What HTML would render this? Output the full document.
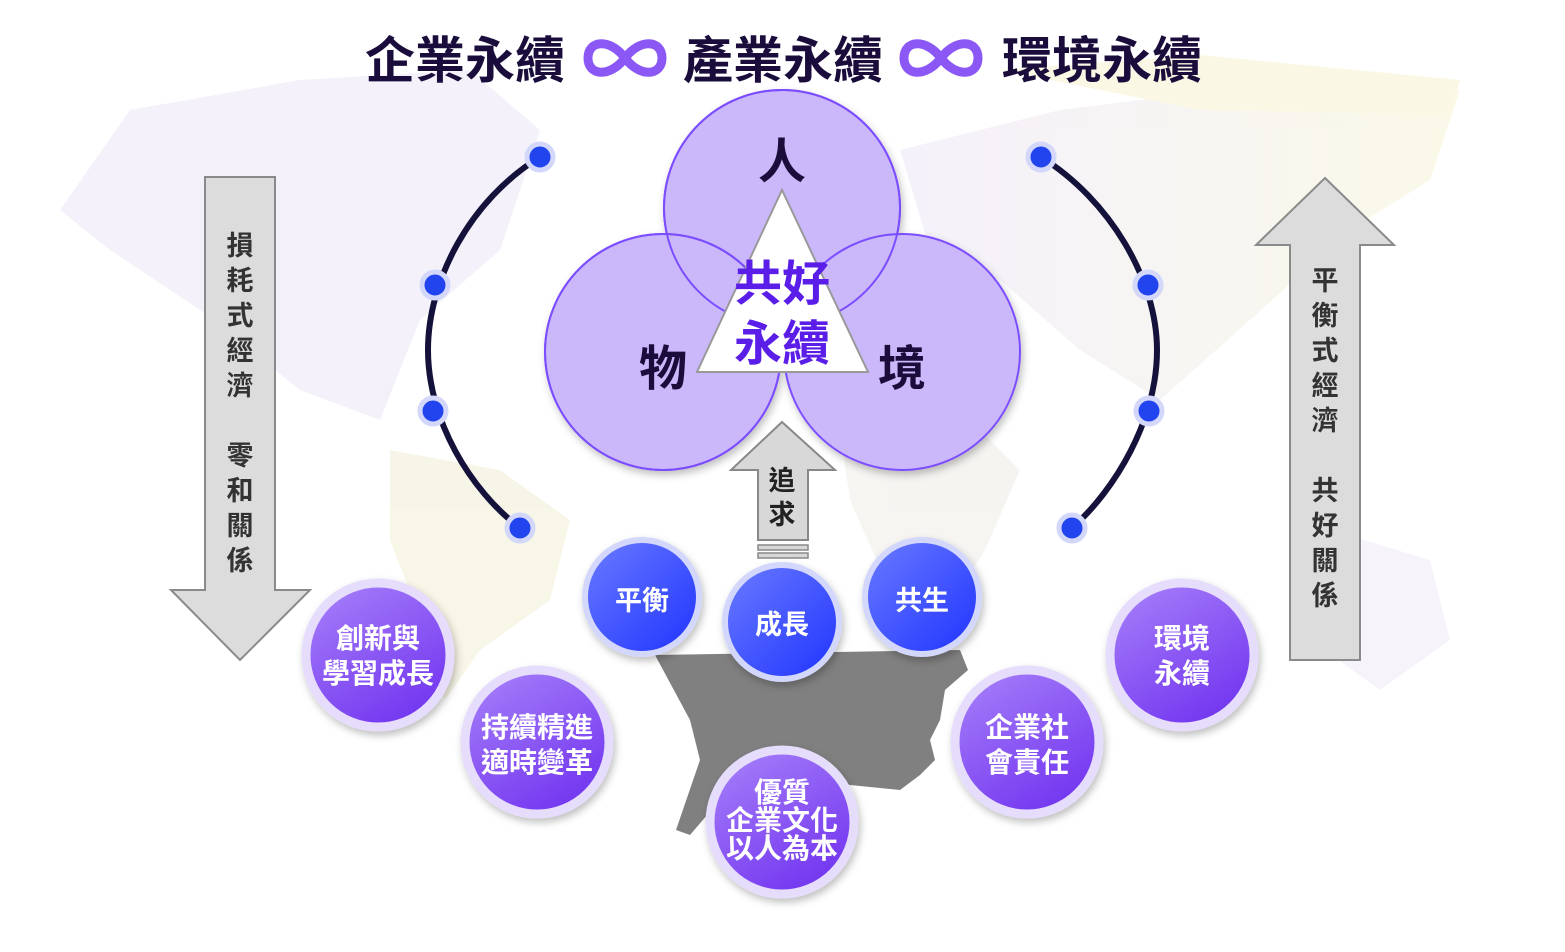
<!DOCTYPE html>
<html><head><meta charset="utf-8"><style>
html,body{margin:0;padding:0;background:#fff;}
svg{display:block;}
text{font-family:"Liberation Sans","Noto Sans CJK TC",sans-serif;font-weight:bold;}
</style></head><body>
<svg width="1565" height="952" viewBox="0 0 1565 952" xmlns="http://www.w3.org/2000/svg">
<defs>
<linearGradient id="bl" x1="0" y1="0" x2="1" y2="1"><stop offset="0" stop-color="#6a7bff"/><stop offset="1" stop-color="#1f33ff"/></linearGradient>
<linearGradient id="pu" x1="0" y1="0" x2="0.6" y2="1"><stop offset="0" stop-color="#a983fa"/><stop offset="1" stop-color="#7438f0"/></linearGradient>
<linearGradient id="map" x1="0" y1="0" x2="1" y2="0"><stop offset="0" stop-color="#e6dcf5"/><stop offset="0.5" stop-color="#ece7e0"/><stop offset="1" stop-color="#f3f0c4"/></linearGradient>
<filter id="sh" x="-20%" y="-20%" width="140%" height="140%"><feDropShadow dx="2" dy="4" stdDeviation="4" flood-color="#000" flood-opacity="0.25"/></filter>
</defs>
<g opacity="0.4">
<path d="M60 210 L130 110 L300 80 L470 70 L540 130 L500 250 L420 320 L380 420 L300 390 L200 310 L110 250 Z" fill="#e4dcf3"/>
<path d="M390 450 L500 470 L570 520 L550 600 L480 650 L445 700 L425 630 L390 540 Z" fill="#ede8c4"/>
<path d="M900 150 L1060 110 L1300 80 L1460 90 L1430 180 L1350 230 L1250 320 L1160 400 L1080 350 L1000 280 L930 250 Z" fill="url(#map)"/>
<path d="M1000 70 L1200 55 L1460 80 L1450 115 L1200 110 Z" fill="#f3f0c0"/>
<path d="M840 430 L960 410 L1020 470 L985 550 L940 620 L890 590 L850 500 Z" fill="#e9e5de"/>
<path d="M1330 530 L1430 560 L1450 640 L1380 690 L1310 640 Z" fill="#e8e0f5"/>
</g>
<g font-size="50" fill="#1a0d3c">
<text x="365" y="78">企業永續</text>
<text x="683" y="78">產業永續</text>
<text x="1002" y="78">環境永續</text>
</g>
<g fill="none" stroke="#8b58f5" stroke-width="9">
<path d="M625 58 C610 38 588 40 588 58 C588 76 610 78 625 58 C640 38 662 40 662 58 C662 76 640 78 625 58 Z"/>
<path d="M941 58 C926 38 904 40 904 58 C904 76 926 78 941 58 C956 38 978 40 978 58 C978 76 956 78 941 58 Z"/>
</g>
<g fill="none" stroke="#14123a" stroke-width="6">
<path d="M540 157 C470 200 428 280 428 350 C428 420 470 490 520 528"/>
<path d="M1041 157 C1110 200 1157 280 1157 350 C1157 420 1115 490 1072 528"/>
</g>
<g fill="#2244ee" stroke="#d3d8fb" stroke-width="5">
<circle cx="540" cy="157" r="13"/><circle cx="435" cy="285" r="13"/><circle cx="433" cy="411" r="13"/><circle cx="520" cy="528" r="13"/>
<circle cx="1041" cy="157" r="13"/><circle cx="1148" cy="285" r="13"/><circle cx="1149" cy="411" r="13"/><circle cx="1072" cy="528" r="13"/>
</g>
<path d="M205 177 L275 177 L275 590 L310 590 L240 660 L171 590 L205 590 Z" fill="#dcdcdc" stroke="#8a8a8a" stroke-width="2"/>
<path d="M1325 178 L1394 245 L1360 245 L1360 660 L1290 660 L1290 245 L1256 245 Z" fill="#dcdcdc" stroke="#8a8a8a" stroke-width="2"/>
<g font-size="27" fill="#333" text-anchor="middle">
<text x="240" y="255">損</text><text x="240" y="290">耗</text><text x="240" y="325">式</text><text x="240" y="360">經</text><text x="240" y="395">濟</text>
<text x="240" y="465">零</text><text x="240" y="500">和</text><text x="240" y="535">關</text><text x="240" y="570">係</text>
<text x="1325" y="290">平</text><text x="1325" y="325">衡</text><text x="1325" y="360">式</text><text x="1325" y="395">經</text><text x="1325" y="430">濟</text>
<text x="1325" y="500">共</text><text x="1325" y="535">好</text><text x="1325" y="570">關</text><text x="1325" y="605">係</text>
</g>
<path d="M655 655 L960 650 L968 670 L945 690 L940 720 L930 740 L935 760 L920 775 L900 790 L850 785 L800 775 L760 780 L720 800 L690 835 L676 830 L700 760 L690 720 Z" fill="#808080"/>
<g filter="url(#sh)" fill="#cbb8fb" stroke="#7c4dff" stroke-width="2">
<circle cx="782" cy="208" r="118"/>
<circle cx="663" cy="352" r="118"/>
<circle cx="902" cy="352" r="118"/>
</g>
<g fill="none" stroke="#7c4dff" stroke-width="2">
<circle cx="782" cy="208" r="118"/>
<circle cx="663" cy="352" r="118"/>
</g>
<path d="M782 190 L868 372 L697 372 Z" fill="#fff" stroke="#999" stroke-width="2"/>
<g font-size="48" text-anchor="middle">
<text x="782" y="178" fill="#1a0d3c">人</text>
<text x="663" y="385" fill="#1a0d3c">物</text>
<text x="902" y="385" fill="#1a0d3c">境</text>
<text x="782" y="300" fill="#5a1ee8">共好</text>
<text x="782" y="360" fill="#5a1ee8">永續</text>
</g>
<path d="M782 422 L835 470 L808 470 L808 540 L758 540 L758 470 L731 470 Z" fill="#d8d8d8" stroke="#888" stroke-width="2"/>
<rect x="758" y="545" width="50" height="5" fill="#d8d8d8" stroke="#888" stroke-width="1.5"/>
<rect x="758" y="553" width="50" height="5" fill="#d8d8d8" stroke="#888" stroke-width="1.5"/>
<g font-size="27" fill="#222" text-anchor="middle"><text x="782" y="490">追</text><text x="782" y="524">求</text></g>
<g stroke="#d3d7fb" stroke-width="6" fill="url(#bl)" filter="url(#sh)">
<circle cx="642" cy="597" r="57"/><circle cx="782" cy="622" r="57"/><circle cx="922" cy="597" r="57"/>
</g>
<g font-size="27" fill="#fff" text-anchor="middle">
<text x="642" y="610">平衡</text><text x="782" y="634">成長</text><text x="922" y="610">共生</text>
</g>
<g stroke="#e6dcfc" stroke-width="9" fill="url(#pu)" filter="url(#sh)">
<circle cx="378" cy="655" r="72"/><circle cx="537" cy="742" r="72"/><circle cx="782" cy="822" r="72"/><circle cx="1027" cy="742" r="72"/><circle cx="1182" cy="655" r="72"/>
</g>
<g font-size="28" fill="#fff" text-anchor="middle">
<text x="378" y="648">創新與</text><text x="378" y="683">學習成長</text>
<text x="537" y="737">持續精進</text><text x="537" y="772">適時變革</text>
<text x="782" y="802">優質</text><text x="782" y="830">企業文化</text><text x="782" y="858">以人為本</text>
<text x="1027" y="737">企業社</text><text x="1027" y="772">會責任</text>
<text x="1182" y="648">環境</text><text x="1182" y="683">永續</text>
</g>
</svg>
</body></html>
